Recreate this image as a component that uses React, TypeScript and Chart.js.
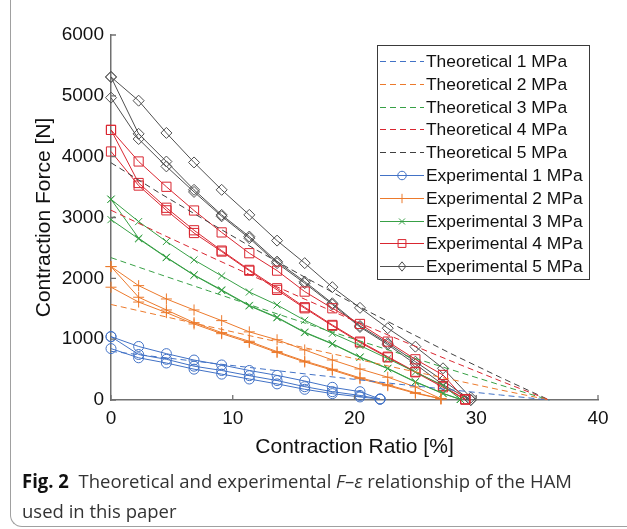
import React, { useEffect, useLayoutEffect, useRef } from 'react';
import { Chart, registerables } from 'chart.js';

Chart.register(...registerables);

// ---------- data ----------
const X_TICKS = [0, 10, 20, 30, 40];
const Y_TICKS = [0, 1000, 2000, 3000, 4000, 5000, 6000];

const TH_X = [0, 4, 8, 12, 16, 20, 24, 28, 32, 36];
const TH_1 = [800, 705, 612, 520, 428, 340, 252, 166, 82, 0];
const TH_2 = [1570, 1390, 1210, 1030, 855, 680, 505, 335, 165, 0];
const TH_3 = [2340, 2065, 1795, 1525, 1260, 1000, 745, 495, 245, 0];
const TH_4 = [3120, 2740, 2370, 2005, 1650, 1300, 965, 635, 312, 0];
const TH_5 = [3900, 3400, 2925, 2460, 2010, 1575, 1160, 755, 370, 0];

const EXP1_X = [0, 2.27, 4.55, 6.82, 9.09, 11.36, 13.64, 15.91, 18.18, 20.45, 22.1];
const EXP1_A = [1042, 880, 762, 657, 576, 485, 405, 312, 209, 137, 15];
const EXP1_B = [1042, 748, 669, 556, 485, 400, 320, 219, 137, 75, 15];
const EXP1_C = [845, 694, 608, 507, 425, 345, 265, 176, 105, 50, 15];

const EXP2_X = [0, 2.27, 4.55, 6.82, 9.09, 11.36, 13.64, 15.91, 18.18, 20.45, 22.73, 25.0, 27.1];
const EXP2_A = [2193, 1880, 1661, 1480, 1305, 1120, 990, 823, 658, 510, 375, 215, 20];
const EXP2_B = [2193, 1689, 1480, 1272, 1108, 965, 795, 640, 505, 365, 250, 120, 20];
const EXP2_C = [1854, 1610, 1436, 1250, 1090, 945, 780, 625, 490, 350, 235, 110, 20];

const EXP3_X = [0, 2.27, 4.55, 6.82, 9.09, 11.36, 13.64, 15.91, 18.18, 20.45, 22.73, 25.0, 27.27, 28.7];
const EXP3_A = [3300, 2933, 2605, 2303, 2040, 1775, 1563, 1310, 1097, 895, 680, 460, 240, 10];
const EXP3_B = [3300, 2660, 2347, 2056, 1810, 1555, 1360, 1116, 927, 707, 521, 301, 110, 10];
const EXP3_C = [2965, 2650, 2340, 2050, 1800, 1547, 1352, 1108, 920, 700, 515, 295, 105, 10];

const EXP4_X = [0, 2.27, 4.55, 6.82, 9.09, 11.36, 13.64, 15.91, 18.18, 20.45, 22.73, 25.0, 27.27, 29.1];
const EXP4_A = [4440, 3921, 3505, 3115, 2755, 2413, 2127, 1782, 1508, 1250, 960, 669, 411, 10];
const EXP4_B = [4440, 3567, 3160, 2790, 2456, 2139, 1837, 1525, 1234, 960, 712, 465, 230, 10];
const EXP4_C = [4085, 3525, 3118, 2745, 2440, 2125, 1810, 1508, 1220, 945, 700, 455, 209, 10];

const EXP5_X = [0, 2.27, 4.55, 6.82, 9.09, 11.36, 13.64, 15.91, 18.18, 20.45, 22.73, 25.0, 27.27, 29.55];
const EXP5_A = [5310, 4920, 4390, 3905, 3455, 3043, 2620, 2250, 1855, 1515, 1180, 877, 521, 40];
const EXP5_B = [5310, 4375, 3920, 3455, 3043, 2687, 2275, 1946, 1590, 1217, 935, 630, 320, 0];
const EXP5_C = [4970, 4290, 3840, 3420, 3020, 2660, 2250, 1920, 1570, 1200, 910, 590, 250, 0];

const TH_LABELS = ['Theoretical 1 MPa', 'Theoretical 2 MPa', 'Theoretical 3 MPa', 'Theoretical 4 MPa', 'Theoretical 5 MPa'];
const EXP_LABELS = ['Experimental 1 MPa', 'Experimental 2 MPa', 'Experimental 3 MPa', 'Experimental 4 MPa', 'Experimental 5 MPa'];

// ---------- styles ----------
const COLORS = ['#4272C6', '#EC7A2C', '#38A046', '#D92630', '#4F4F4F'];
const TH_COLORS = ['#4272C6', '#EC7A2C', '#38A046', '#D92630', '#404040'];
const MARKERS = ['circle', 'cross', 'crossRot', 'rect', 'rectRot'];
const MARKER_R = [5, 5.5, 5, 6.5, 5.5];
const AXIS_COLOR = '#707070';
const FONT = "'Liberation Sans', Arial, Helvetica, sans-serif";

const pts = (xs: number[], ys: number[]) => xs.map((x, i) => ({ x, y: ys[i] }));

function buildDatasets() {
  const th = [TH_1, TH_2, TH_3, TH_4, TH_5];
  const exp = [
    [EXP1_X, [EXP1_A, EXP1_B, EXP1_C]],
    [EXP2_X, [EXP2_A, EXP2_B, EXP2_C]],
    [EXP3_X, [EXP3_A, EXP3_B, EXP3_C]],
    [EXP4_X, [EXP4_A, EXP4_B, EXP4_C]],
    [EXP5_X, [EXP5_A, EXP5_B, EXP5_C]],
  ] as [number[], number[][]][];
  const ds: any[] = [];
  th.forEach((ys, i) => {
    ds.push({
      label: TH_LABELS[i],
      data: pts(TH_X, ys),
      borderColor: TH_COLORS[i],
      borderWidth: 1,
      borderDash: [6, 4],
      pointRadius: 0,
      fill: false,
      tension: 0,
      clip: false,
      kind: 'th',
    });
  });
  exp.forEach(([xs, series], i) => {
    series.forEach((ys) => {
      ds.push({
        label: EXP_LABELS[i],
        data: pts(xs, ys),
        borderColor: COLORS[i],
        borderWidth: 1,
        pointStyle: MARKERS[i],
        pointRadius: MARKER_R[i],
        pointBorderColor: COLORS[i],
        pointBackgroundColor: 'rgba(0,0,0,0)',
        pointBorderWidth: 1,
        fill: false,
        tension: 0,
        clip: false,
        kind: 'exp',
        markerIndex: i,
      });
    });
  });
  return ds;
}

function drawMarker(ctx: CanvasRenderingContext2D, style: string, x: number, y: number, r: number) {
  ctx.beginPath();
  if (style === 'circle') {
    ctx.arc(x, y, r, 0, Math.PI * 2);
  } else if (style === 'cross') {
    ctx.moveTo(x - r, y); ctx.lineTo(x + r, y);
    ctx.moveTo(x, y - r); ctx.lineTo(x, y + r);
  } else if (style === 'crossRot') {
    const d = r * Math.SQRT1_2;
    ctx.moveTo(x - d, y - d); ctx.lineTo(x + d, y + d);
    ctx.moveTo(x + d, y - d); ctx.lineTo(x - d, y + d);
  } else if (style === 'rect') {
    const d = r * Math.SQRT1_2;
    ctx.rect(x - d, y - d, 2 * d, 2 * d);
  } else if (style === 'rectRot') {
    ctx.moveTo(x - r * 0.8, y); ctx.lineTo(x, y - r); ctx.lineTo(x + r * 0.8, y); ctx.lineTo(x, y + r); ctx.closePath();
  }
  ctx.stroke();
}

const inwardTicks = {
  id: 'inwardTicks',
  afterDraw(chart: any) {
    const { ctx, chartArea, scales } = chart;
    ctx.save();
    ctx.strokeStyle = AXIS_COLOR;
    ctx.lineWidth = 1.3;
    ctx.beginPath();
    scales.x.ticks.forEach((t: any) => {
      const p = scales.x.getPixelForValue(t.value);
      ctx.moveTo(p, chartArea.bottom);
      ctx.lineTo(p, chartArea.bottom - 5);
    });
    scales.y.ticks.forEach((t: any) => {
      const p = scales.y.getPixelForValue(t.value);
      ctx.moveTo(chartArea.left, p);
      ctx.lineTo(chartArea.left + 5, p);
    });
    ctx.stroke();
    ctx.restore();
  },
};

const boxLegend = {
  id: 'boxLegend',
  afterDraw(chart: any) {
    const { ctx, chartArea } = chart;
    const seen = new Set<string>();
    const items: any[] = [];
    chart.data.datasets.forEach((d: any) => {
      if (!seen.has(d.label)) { seen.add(d.label); items.push(d); }
    });
    const w = 212, h = 234;
    const left = chartArea.right - 221;
    const top = chartArea.top + 10;
    const rowH = 22.8;
    const first = top + 16;
    ctx.save();
    ctx.fillStyle = '#ffffff';
    ctx.fillRect(left, top, w, h);
    ctx.strokeStyle = '#3a3a3a';
    ctx.lineWidth = 1;
    ctx.strokeRect(left + 0.5, top + 0.5, w, h);
    ctx.font = `17.4px ${FONT}`;
    ctx.textBaseline = 'middle';
    ctx.textAlign = 'left';
    items.forEach((d, i) => {
      const y = Math.round(first + i * rowH) + 0.5;
      ctx.strokeStyle = d.borderColor;
      ctx.lineWidth = 1;
      ctx.setLineDash(d.kind === 'th' ? [6, 4] : []);
      ctx.beginPath();
      ctx.moveTo(left + 3, y);
      ctx.lineTo(left + 47, y);
      ctx.stroke();
      ctx.setLineDash([]);
      if (d.kind === 'exp') {
        drawMarker(ctx, d.pointStyle, left + 25, y, d.pointRadius * 0.85);
      }
      ctx.fillStyle = '#111111';
      ctx.fillText(d.label, left + 49, y + 1);
    });
    ctx.restore();
  },
};

export default function App() {
  const canvasRef = useRef<HTMLCanvasElement | null>(null);
  const capRef = useRef<HTMLDivElement | null>(null);
  const line1Ref = useRef<HTMLSpanElement | null>(null);

  useLayoutEffect(() => {
    if (line1Ref.current && capRef.current) {
      const wdt = line1Ref.current.getBoundingClientRect().width;
      if (wdt > 0) capRef.current.style.transform = `scaleX(${550 / wdt})`;
    }
  }, []);

  useEffect(() => {
    if (!canvasRef.current) return;
    const tickFont = { family: FONT, size: 19 };
    const titleFont = { family: FONT, size: 21 };
    const chart = new Chart(canvasRef.current, {
      type: 'line',
      data: { datasets: buildDatasets() },
      options: {
        animation: false,
        responsive: false,
        maintainAspectRatio: false,
        layout: { padding: { left: 0, right: 29, top: 35, bottom: 0 } },
        plugins: { legend: { display: false }, tooltip: { enabled: false } },
        scales: {
          x: {
            type: 'linear',
            min: 0,
            max: 40,
            afterBuildTicks: (s: any) => { s.ticks = X_TICKS.map((v) => ({ value: v })); },
            afterFit: (s: any) => { s.height = 70; },
            grid: { display: false, drawTicks: false },
            border: { display: true, color: AXIS_COLOR, width: 1.5 },
            ticks: { padding: 7, font: tickFont, color: '#111', maxRotation: 0, callback: (v: any) => String(v) },
            title: { display: true, text: 'Contraction Ratio [%]', font: titleFont, color: '#111', padding: { top: 0, bottom: 10 } },
          },
          y: {
            type: 'linear',
            min: 0,
            max: 6000,
            afterBuildTicks: (s: any) => { s.ticks = Y_TICKS.map((v) => ({ value: v })); },
            afterFit: (s: any) => { s.width = 111; },
            grid: { display: false, drawTicks: false },
            border: { display: true, color: AXIS_COLOR, width: 1.5 },
            ticks: { padding: 7, font: tickFont, color: '#111', callback: (v: any) => String(v) },
            title: { display: true, text: 'Contraction Force [N]', font: titleFont, color: '#111', padding: { top: 32, bottom: 0 } },
          },
        },
      } as any,
      plugins: [inwardTicks, boxLegend],
    });
    return () => chart.destroy();
  }, []);

  return (
    <div style={{ position: 'fixed', left: 0, top: 0, width: 627, height: 529, background: '#fff', overflow: 'hidden' }}>
      <div style={{
        position: 'absolute', left: 10, top: -4, width: 680, height: 530,
        borderLeft: '1px solid #a0a0a0', borderBottom: '1px solid #a0a0a0', borderBottomLeftRadius: 12,
      }} />
      <canvas ref={canvasRef} width={627} height={470} style={{ position: 'absolute', left: 0, top: 0, width: 627, height: 470 }} />
      <div ref={capRef} style={{
        position: 'absolute', left: 22, top: 466, whiteSpace: 'nowrap', transformOrigin: 'left top',
        fontFamily: "'Open Sans', 'Noto Sans', sans-serif", fontSize: 19, lineHeight: '30px', color: '#333',
      }}>
        <span ref={line1Ref}>
          <b style={{ color: '#111' }}>Fig. 2</b>&nbsp; Theoretical and experimental <i>F</i>–<i>ε</i> relationship of the HAM
        </span>
        <br />
        <span>used in this paper</span>
      </div>
    </div>
  );
}
